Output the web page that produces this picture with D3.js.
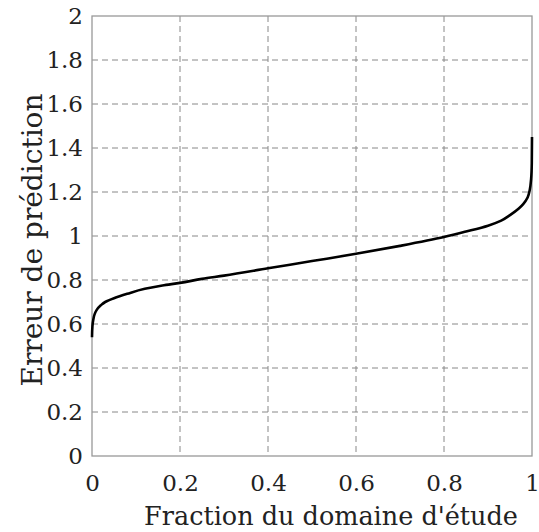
<!DOCTYPE html>
<html><head><meta charset="utf-8">
<script src="https://cdn.jsdelivr.net/npm/d3@7"></script>
<style>
html,body{margin:0;padding:0;background:#fff;}
svg{display:block;}
text{font-family:"DejaVu Serif","Liberation Serif",serif;fill:#222;}
</style></head>
<body><svg id="c" width="539" height="532"></svg>
<script>
const fractionX = [0, 0.001, 0.003, 0.006, 0.01, 0.02, 0.03, 0.05, 0.08, 0.12, 0.16, 0.2, 0.25, 0.3, 0.4, 0.5, 0.6, 0.7, 0.8, 0.85, 0.9, 0.93, 0.95, 0.97, 0.98, 0.99, 0.995, 0.998, 0.9995, 1.0];
const errorY = [0.54, 0.59, 0.62, 0.645, 0.662, 0.685, 0.70, 0.717, 0.737, 0.76, 0.775, 0.787, 0.805, 0.82, 0.853, 0.886, 0.919, 0.955, 0.995, 1.02, 1.047, 1.07, 1.095, 1.125, 1.145, 1.175, 1.21, 1.26, 1.33, 1.45];
const xTicks = [0, 0.2, 0.4, 0.6, 0.8, 1];
const yTicks = [0, 0.2, 0.4, 0.6, 0.8, 1, 1.2, 1.4, 1.6, 1.8, 2];
const xTickLabels = ["0", "0.2", "0.4", "0.6", "0.8", "1"];
const yTickLabels = ["0", "0.2", "0.4", "0.6", "0.8", "1", "1.2", "1.4", "1.6", "1.8", "2"];
const xTitle = "Fraction du domaine d'étude";
const yTitle = "Erreur de prédiction";

const svg = d3.select("#c");
const L = 92, R = 532, T = 16, B = 456;
const x = d3.scaleLinear().domain([0, 1]).range([L, R]);
const y = d3.scaleLinear().domain([0, 2]).range([B, T]);

// grid
const g = svg.append("g");
g.selectAll("line.gx").data(xTicks.slice(1, -1)).enter().append("line")
  .attr("x1", d => x(d)).attr("x2", d => x(d)).attr("y1", T).attr("y2", B)
  .attr("stroke", "#888").attr("stroke-width", 1).attr("stroke-dasharray", "6,4");
g.selectAll("line.gy").data(yTicks.slice(1, -1)).enter().append("line")
  .attr("y1", d => y(d)).attr("y2", d => y(d)).attr("x1", L).attr("x2", R)
  .attr("stroke", "#888").attr("stroke-width", 1).attr("stroke-dasharray", "6,4");

// frame
svg.append("rect").attr("x", L).attr("y", T).attr("width", R - L).attr("height", B - T)
  .attr("fill", "none").attr("stroke", "#999").attr("stroke-width", 1.3);

const FF = '"DejaVu Serif","Liberation Serif",serif';
// axes labels
const xAxis = d3.axisBottom(x).tickValues(xTicks).tickFormat((d, i) => xTickLabels[i]).tickSize(0).tickPadding(19);
const xa = svg.append("g").attr("transform", `translate(0,${B})`).call(xAxis)
  .attr("font-family", FF).attr("font-size", 23);
xa.select(".domain").remove();
xa.selectAll("text").attr("fill", "#222");

const yAxis = d3.axisLeft(y).tickValues(yTicks).tickFormat((d, i) => yTickLabels[i]).tickSize(0).tickPadding(9);
const ya = svg.append("g").attr("transform", `translate(${L},0)`).call(yAxis)
  .attr("font-family", FF).attr("font-size", 23);
ya.select(".domain").remove();
ya.selectAll("text").attr("fill", "#222");

svg.append("text").attr("x", 331).attr("y", 525).attr("text-anchor", "middle")
  .style("font-size", "25.5px").text(xTitle);
svg.append("text").attr("transform", `translate(42,240) rotate(-90)`).attr("text-anchor", "middle")
  .style("font-size", "28px").text(yTitle);

// curve
const pts = fractionX.map((v, i) => [v, errorY[i]]);
svg.append("path").datum(pts)
  .attr("d", d3.line().x(d => x(d[0])).y(d => y(d[1])).curve(d3.curveMonotoneY))
  .attr("fill", "none").attr("stroke", "#000").attr("stroke-width", 2.6);
</script></body></html>
